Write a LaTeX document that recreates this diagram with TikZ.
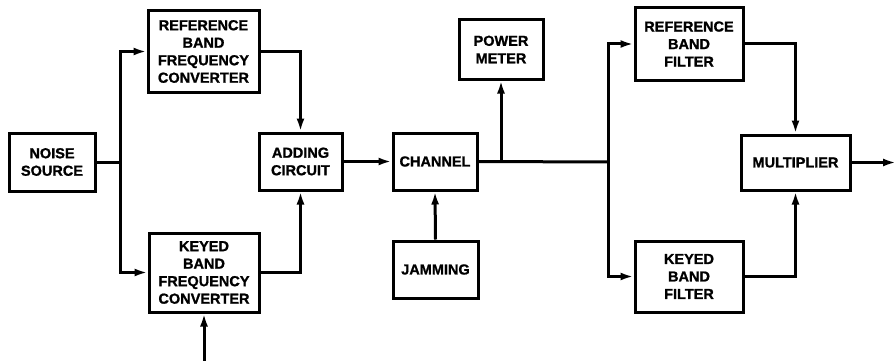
\documentclass[tikz,border=0pt]{standalone}
\usepackage{fontspec}
\newfontfamily\lblfont{Liberation Sans Bold}[FakeBold=1.2]
\usetikzlibrary{arrows.meta}
\begin{document}
\begin{tikzpicture}[x=1pt,y=-1pt,
  blk/.style={draw,line width=3pt,inner sep=0pt,align=center,
    font=\lblfont\fontsize{14.5}{17.5}\selectfont},
  con/.style={line width=3pt},
  arr/.style={con,-{Latex[length=13pt,width=8pt]}}]
\useasboundingbox (0,0) rectangle (896,361);
\node[blk,minimum width=86pt,minimum height=58pt] (noise) at (52,162) {NOISE\\SOURCE};
\node[blk,minimum width=111pt,minimum height=81pt] (rbfc) at (203.5,51.5) {REFERENCE\\BAND\\FREQUENCY\\CONVERTER};
\node[blk,minimum width=110pt,minimum height=79pt] (kbfc) at (204,272.5) {KEYED\\BAND\\FREQUENCY\\CONVERTER};
\node[blk,minimum width=83pt,minimum height=57pt] (add) at (300.5,161.5) {ADDING\\CIRCUIT};
\node[blk,minimum width=84pt,minimum height=57pt] (chan) at (435,161.5) {CHANNEL};
\node[blk,minimum width=84pt,minimum height=59pt] (pm) at (501,49.5) {POWER\\METER};
\node[blk,minimum width=85pt,minimum height=57pt] (jam) at (435.5,269.5) {JAMMING};
\node[blk,minimum width=108pt,minimum height=72pt] (rbf) at (689,44) {REFERENCE\\BAND\\FILTER};
\node[blk,minimum width=108pt,minimum height=71pt] (kbf) at (689,276.5) {KEYED\\BAND\\FILTER};
\node[blk,minimum width=109pt,minimum height=55pt] (mult) at (795.5,162.5) {MULTIPLIER};
\coordinate (s1) at (120,162);
\coordinate (s2) at (608,162);
\coordinate (tap) at (pm.south |- chan.east);
\coordinate (kin) at (kbfc.south |- 0,361);
\coordinate (out) at (896,162.5);
\draw[con] (noise.east) -- (s1);
\draw[arr] (s1) |- (rbfc.west);
\draw[arr] (s1) |- (kbfc.west);
\draw[arr] (rbfc.east) -| (add.north);
\draw[arr] (kbfc.east) -| (add.south);
\draw[arr] (kin) -- (kbfc.south);
\draw[arr] (add.east) -- (chan.west);
\draw[arr] (jam.north) -- (chan.south);
\draw[con] (chan.east) -- (s2);
\draw[arr] (tap) -- (pm.south);
\draw[arr] (s2) |- (rbf.west);
\draw[arr] (s2) |- (kbf.west);
\draw[arr] (rbf.east) -| (mult.north);
\draw[arr] (kbf.east) -| (mult.south);
\draw[arr] (mult.east) -- (out);
\end{tikzpicture}
\end{document}
